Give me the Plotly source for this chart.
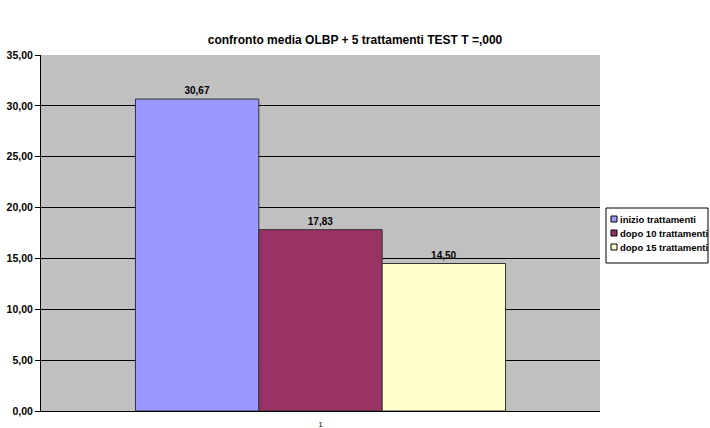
import plotly.graph_objects as go

categories = ["1"]
series_names = ["inizio trattamenti", "dopo 10 trattamenti", "dopo 15 trattamenti"]
series_values = [[30.67], [17.83], [14.50]]
colors = ["#9999FF", "#993366", "#FFFFCC"]
y_ticks = [0, 5, 10, 15, 20, 25, 30, 35]

W, H = 710, 428
L, R, T, B = 41, 110, 55, 17
PW, PH = W - L - R, H - T - B
FONT = "Liberation Sans, Arial, sans-serif"


def px_x(x):
    return (x - L) / PW


def px_y(y):
    return (H - B - y) / PH


fig = go.Figure()
for name, vals, c in zip(series_names, series_values, colors):
    fig.add_trace(go.Bar(
        x=categories, y=vals, name=name,
        marker=dict(color=c, line=dict(color="#333333", width=1)),
        texttemplate="%{y:.2f}", textposition="outside",
        textfont=dict(family=FONT, size=10, color="black", weight="bold"),
        cliponaxis=False, showlegend=False,
    ))

shapes = [dict(type="rect", xref="paper", yref="paper",
               x0=px_x(606), x1=px_x(708), y0=px_y(263), y1=px_y(208),
               line=dict(color="black", width=1), fillcolor="white", layer="above")]
annotations = []
for i, (name, c) in enumerate(zip(series_names, colors)):
    cy = 219 + 14 * i
    shapes.append(dict(type="rect", xref="paper", yref="paper",
                       x0=px_x(611), x1=px_x(617), y0=px_y(cy + 3), y1=px_y(cy - 3),
                       line=dict(color="black", width=1), fillcolor=c, layer="above"))
    annotations.append(dict(text="<b>" + name + "</b>", xref="paper", yref="paper",
                            x=px_x(618), y=px_y(cy), xanchor="left", yanchor="middle",
                            showarrow=False,
                            font=dict(family=FONT, size=9.5, color="black")))

fig.update_layout(
    width=W, height=H,
    separators=",.",
    barmode="group", bargap=0.338, bargroupgap=0,
    plot_bgcolor="#C0C0C0", paper_bgcolor="white",
    margin=dict(l=L, r=R, t=T, b=B, autoexpand=False),
    font=dict(family=FONT, size=9, color="black"),
    title=dict(text="<b>confronto media OLBP + 5 trattamenti TEST T =,000</b>",
               x=0.5, xref="container", yref="container", y=1 - 40 / H, yanchor="middle",
               font=dict(size=12, family=FONT)),
    shapes=shapes, annotations=annotations,
    showlegend=False,
)
fig.update_yaxes(range=[0, 35], tickvals=y_ticks, tickformat=".2f",
                 showgrid=True, gridcolor="black", gridwidth=1,
                 showline=True, linecolor="black", linewidth=1,
                 ticks="outside", ticklen=5, tickcolor="black",
                 tickfont=dict(size=10.5, family=FONT, weight="bold", color="black"),
                 zeroline=False)
fig.update_xaxes(showline=True, linecolor="black", linewidth=1,
                 tickfont=dict(size=7.5, family=FONT, color="black"), ticks="", showgrid=False,
                 ticklabelstandoff=6)
fig.update_traces(hoverinfo="skip")
fig.write_html(
    "out.html",
    config={"displayModeBar": False},
    post_script="document.body.style.margin='0';document.body.style.overflow='hidden';",
)
